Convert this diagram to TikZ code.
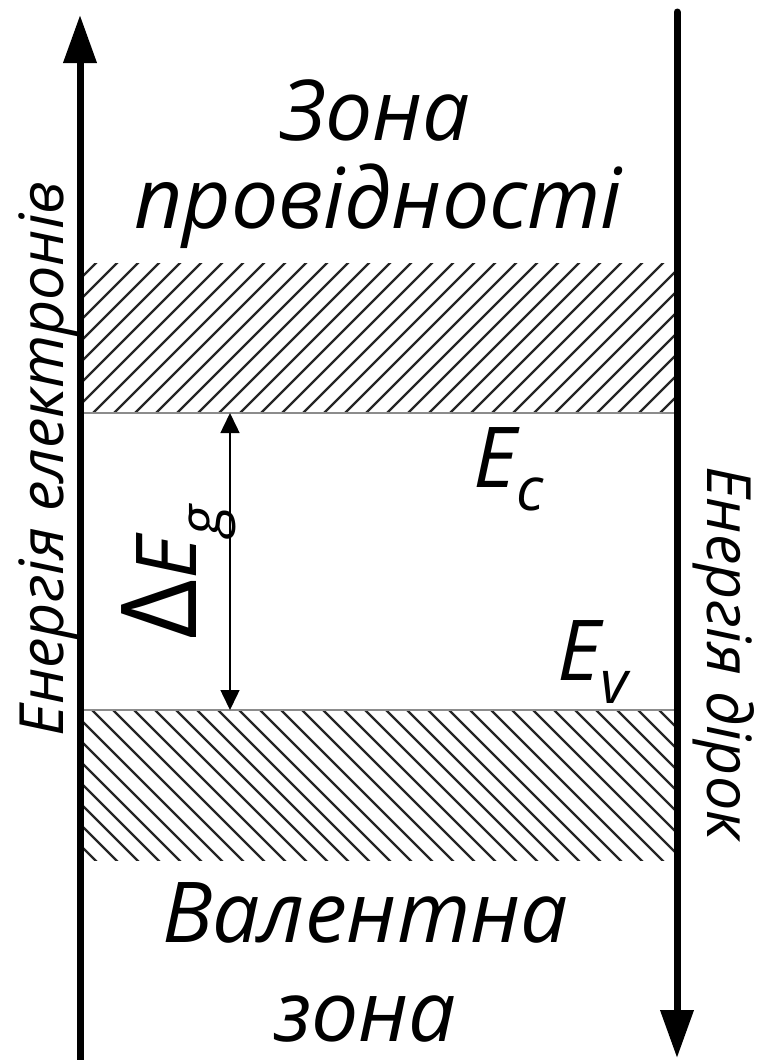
\documentclass[tikz,border=0pt]{standalone}
\usepackage{fontspec}
\setmainfont{Open Sans}
\usetikzlibrary{arrows.meta}
\begin{document}
\begin{tikzpicture}[x=1pt,y=-1pt,
  axisline/.style={line width=7pt,-{Triangle[length=48pt,width=32pt]}},
  hatchline/.style={line width=2.2pt,black!85},
  edgeline/.style={line width=1.5pt,black!45},
  gaparrow/.style={line width=1.5pt,{Triangle[length=20pt,width=19pt]}-{Triangle[length=20pt,width=19pt]}},
  bigtext/.style={inner sep=0pt,font=\itshape\fontsize{84}{100}\selectfont},
  axistext/.style={inner sep=0pt,font=\itshape\fontsize{61}{64}\selectfont},
]
\useasboundingbox (0,0) rectangle (756,1060);
% hatched bands
\begin{scope}
  \clip (80,263) rectangle (677,413);
  \foreach \i in {-10,...,32} \draw[hatchline] (93+21*\i,413) -- ++(160,-160);
\end{scope}
\begin{scope}
  \clip (80,710) rectangle (677,860);
  \foreach \i in {-10,...,32} \draw[hatchline] (92+21*\i,710) -- ++(160,160);
\end{scope}
% band edges
\coordinate (ecl) at (80,413);
\coordinate (ecr) at (677,413);
\coordinate (evl) at (80,710);
\coordinate (evr) at (677,710);
\draw[edgeline] (ecl) -- (ecr);
\draw[edgeline] (evl) -- (evr);
% axes
\coordinate (lbot) at (80,1068);
\coordinate (ltop) at (80,15);
\coordinate (rtop) at (677,12);
\coordinate (rbot) at (677,1058);
\draw[axisline] (lbot) -- (ltop);
\draw[axisline,line cap=round] (rtop) -- (rbot);
% gap arrow
\coordinate (gtop) at (230,413);
\coordinate (gbot) at (230,710);
\draw[gaparrow] (gtop) -- (gbot);
% labels
\node[bigtext,anchor=base] (cb1) at (375,140) {Зона};
\node[bigtext,anchor=base] (cb2) at (378,228) {провідності};
\node[bigtext,anchor=base] (vb1) at (365,942) {Валентна};
\node[bigtext,anchor=base] (vb2) at (365,1041) {зона};
\node[bigtext,anchor=base west] (ec) at (473,487) {E\raisebox{-23pt}{\fontsize{60}{60}\selectfont c}};
\node[bigtext,anchor=base west] (ev) at (557,680) {E\raisebox{-23pt}{\fontsize{60}{60}\selectfont v}};
\node[bigtext,rotate=90,anchor=base west] (eg) at (196,640) {{\upshape\fontsize{105}{105}\selectfont Δ}E\raisebox{-25pt}{\fontsize{60}{60}\selectfont g}};
\node[axistext,rotate=90,anchor=base] (ylab) at (63,459) {Енергія електронів};
\node[axistext,rotate=-90,anchor=base] (yrab) at (707,653) {Енергія дірок};
\end{tikzpicture}
\end{document}
